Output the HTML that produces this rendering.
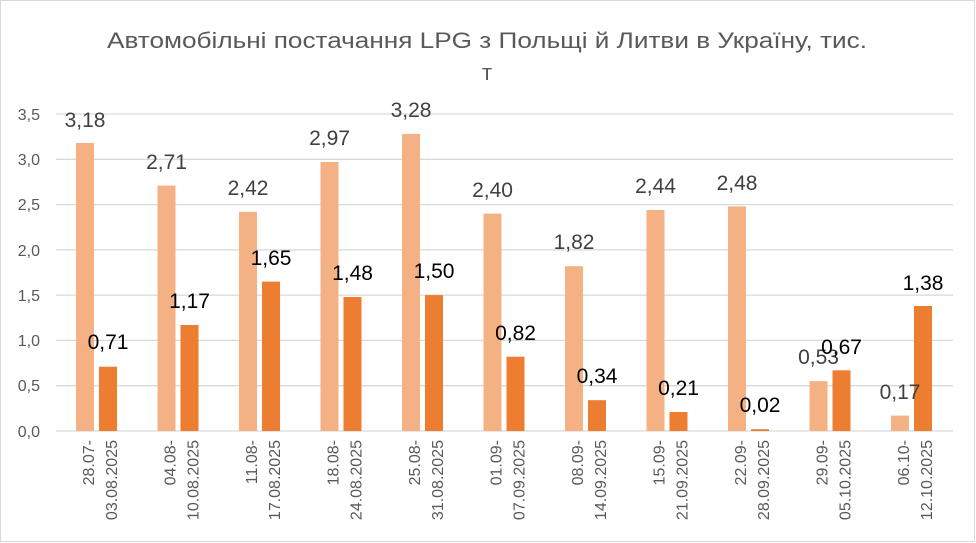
<!DOCTYPE html>
<html><head><meta charset="utf-8"><style>
html,body{margin:0;padding:0;background:#fff}
svg{display:block;font-family:"Liberation Sans",sans-serif}
</style></head><body>
<svg width="976" height="543" xmlns="http://www.w3.org/2000/svg">
<rect x="0.5" y="0.5" width="974" height="541" fill="#fff" stroke="#d9d9d9"/>
<text x="487" y="48" text-anchor="middle" font-size="22" fill="#595959" textLength="760" lengthAdjust="spacingAndGlyphs">Автомобільні постачання LPG з Польщі й Литви в Україну, тис.</text>
<text x="487" y="80" text-anchor="middle" font-size="22" fill="#595959">т</text>
<g stroke="#d9d9d9" stroke-width="1.3">
<line x1="56" x2="953" y1="114" y2="114"/><line x1="56" x2="953" y1="159.3" y2="159.3"/>
<line x1="56" x2="953" y1="204.6" y2="204.6"/><line x1="56" x2="953" y1="249.9" y2="249.9"/>
<line x1="56" x2="953" y1="295.1" y2="295.1"/><line x1="56" x2="953" y1="340.4" y2="340.4"/>
<line x1="56" x2="953" y1="385.7" y2="385.7"/><line x1="56" x2="953" y1="431" y2="431"/>
</g>
<g font-size="16" fill="#595959" text-anchor="end">
<text x="40" y="120">3,5</text><text x="40" y="165">3,0</text><text x="40" y="210">2,5</text>
<text x="40" y="256">2,0</text><text x="40" y="301">1,5</text><text x="40" y="346">1,0</text>
<text x="40" y="391">0,5</text><text x="40" y="437">0,0</text>
</g>
<g fill="#F4B183">
<rect x="76" y="143" width="18" height="288"/>
<rect x="157.5" y="185.6" width="18" height="245.4"/>
<rect x="239" y="211.8" width="18" height="219.2"/>
<rect x="320.5" y="162" width="18" height="269"/>
<rect x="402" y="133.9" width="18" height="297.1"/>
<rect x="483.5" y="213.6" width="18" height="217.4"/>
<rect x="565" y="266.2" width="18" height="164.8"/>
<rect x="646.5" y="210" width="18" height="221"/>
<rect x="728" y="206.4" width="18" height="224.6"/>
<rect x="809.5" y="381.2" width="18" height="49.8"/>
<rect x="891" y="415.6" width="18" height="15.4"/>
</g>
<g fill="#ED7D31">
<rect x="99" y="366.7" width="18" height="64.3"/>
<rect x="180.5" y="325" width="18" height="106"/>
<rect x="262" y="281.6" width="18" height="149.4"/>
<rect x="343.5" y="297" width="18" height="134"/>
<rect x="425" y="295.1" width="18" height="135.9"/>
<rect x="506.5" y="356.7" width="18" height="74.3"/>
<rect x="588" y="400.2" width="18" height="30.8"/>
<rect x="669.5" y="412" width="18" height="19"/>
<rect x="751" y="429.2" width="18" height="1.8"/>
<rect x="832.5" y="370.3" width="18" height="60.7"/>
<rect x="914" y="306" width="18" height="125"/>
</g>
<g font-size="21" fill="#404040" text-anchor="middle">
<text x="85" y="127">3,18</text>
<text x="166.5" y="169">2,71</text>
<text x="248" y="195">2,42</text>
<text x="329.5" y="145">2,97</text>
<text x="411" y="117">3,28</text>
<text x="492.5" y="197">2,40</text>
<text x="574" y="249">1,82</text>
<text x="655.5" y="193">2,44</text>
<text x="737" y="190">2,48</text>
<text x="818.5" y="364">0,53</text>
<text x="900" y="399">0,17</text>
</g>
<g font-size="21" fill="#000" text-anchor="middle">
<text x="108" y="349">0,71</text>
<text x="189.5" y="308">1,17</text>
<text x="271" y="265">1,65</text>
<text x="352.5" y="280">1,48</text>
<text x="434" y="278">1,50</text>
<text x="515.5" y="340">0,82</text>
<text x="597" y="383">0,34</text>
<text x="678.5" y="395">0,21</text>
<text x="760" y="412">0,02</text>
<text x="841.5" y="354">0,67</text>
<text x="923" y="290">1,38</text>
</g>
<g font-size="16" fill="#595959" text-anchor="end">
<text transform="translate(93.75,440) rotate(-90)">28.07-</text><text transform="translate(116.75,440) rotate(-90)">03.08.2025</text>
<text transform="translate(175.25,440) rotate(-90)">04.08-</text><text transform="translate(198.25,440) rotate(-90)">10.08.2025</text>
<text transform="translate(256.75,440) rotate(-90)">11.08-</text><text transform="translate(279.75,440) rotate(-90)">17.08.2025</text>
<text transform="translate(338.25,440) rotate(-90)">18.08-</text><text transform="translate(361.25,440) rotate(-90)">24.08.2025</text>
<text transform="translate(419.75,440) rotate(-90)">25.08-</text><text transform="translate(442.75,440) rotate(-90)">31.08.2025</text>
<text transform="translate(501.25,440) rotate(-90)">01.09-</text><text transform="translate(524.25,440) rotate(-90)">07.09.2025</text>
<text transform="translate(582.75,440) rotate(-90)">08.09-</text><text transform="translate(605.75,440) rotate(-90)">14.09.2025</text>
<text transform="translate(664.25,440) rotate(-90)">15.09-</text><text transform="translate(687.25,440) rotate(-90)">21.09.2025</text>
<text transform="translate(745.75,440) rotate(-90)">22.09-</text><text transform="translate(768.75,440) rotate(-90)">28.09.2025</text>
<text transform="translate(827.25,440) rotate(-90)">29.09-</text><text transform="translate(850.25,440) rotate(-90)">05.10.2025</text>
<text transform="translate(908.75,440) rotate(-90)">06.10-</text><text transform="translate(931.75,440) rotate(-90)">12.10.2025</text>
</g>
</svg>
</body></html>
